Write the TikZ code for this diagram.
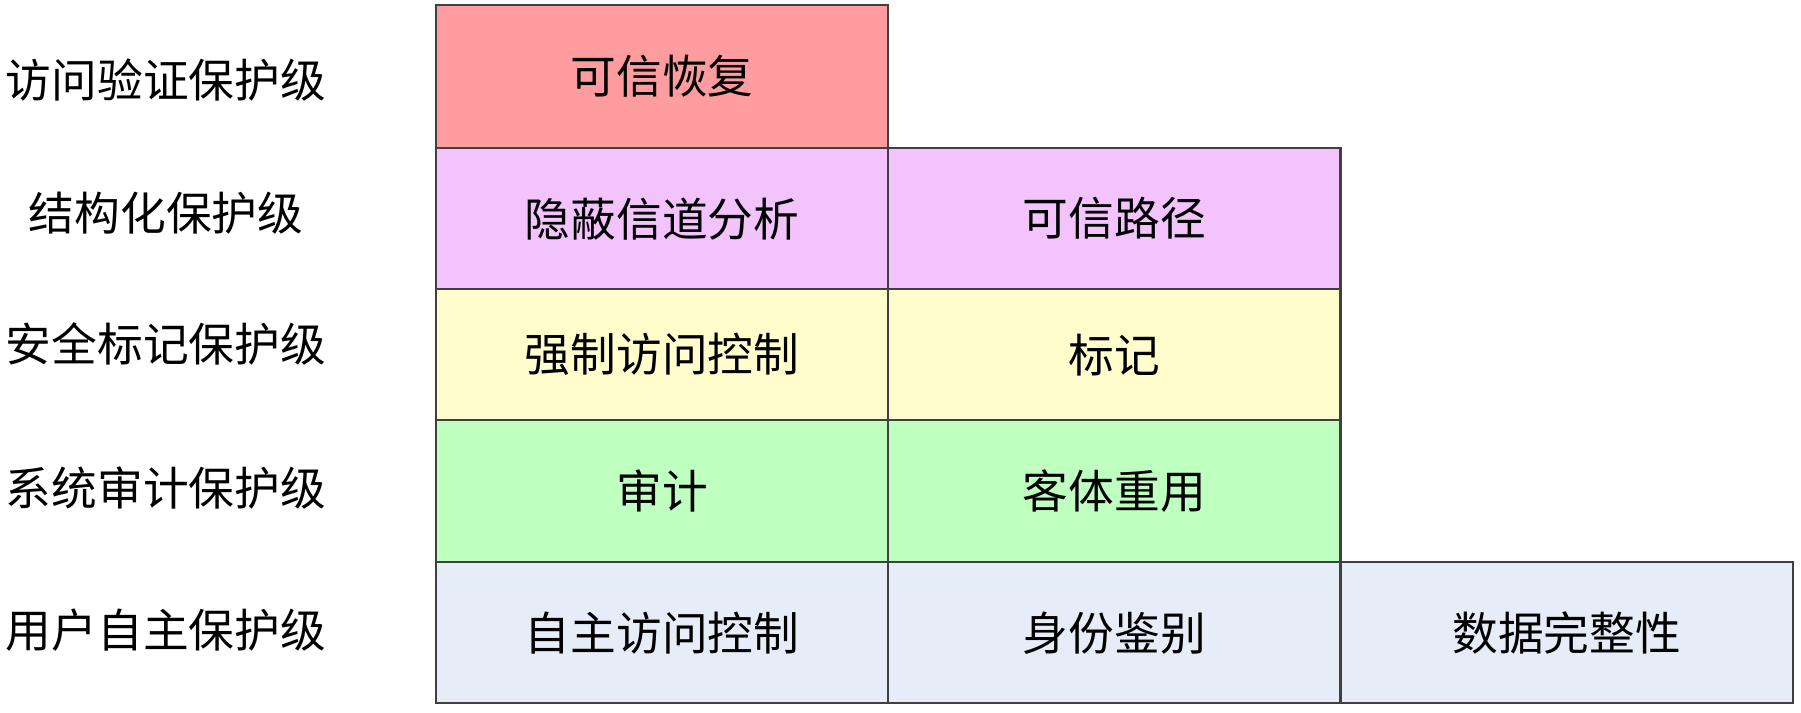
\documentclass[tikz,border=0pt]{standalone}
\usepackage{fontspec}
\setmainfont{Noto Sans CJK SC}
\usetikzlibrary{positioning}
\definecolor{recoverred}{HTML}{FF9C9F}
\definecolor{structpink}{HTML}{F2C3FC}
\definecolor{labelyellow}{HTML}{FFFDCC}
\definecolor{auditgreen}{HTML}{BFFFC0}
\definecolor{userblue}{HTML}{E7EDF8}

\begin{document}
\begin{tikzpicture}[x=0.01cm, y=-0.01cm, font=\fontsize{13}{15}\selectfont,
  cell/.style={draw=black!75, line width=0.6pt, anchor=north west, inner sep=0pt, outer sep=0pt, minimum width=4.52cm},
  level/.style={anchor=center, inner sep=0pt}]
  \useasboundingbox (0,0) rectangle (1801,712);
  % ---- level names ----
  \node[level] (verify) at (166,80) {访问验证保护级};
  \node[level] (struct) at (166,213) {结构化保护级};
  \node[level] (secure) at (166,344) {安全标记保护级};
  \node[level] (audit)  at (166,488) {系统审计保护级};
  \node[level] (user)   at (166,630) {用户自主保护级};
  % ---- verified protection ----
  \node[cell, fill=recoverred, minimum height=1.43cm] (recover) at (436,5) {可信恢复};
  % ---- structured protection ----
  \node[cell, fill=structpink, minimum height=1.41cm] (covert) at (recover.south west) {隐蔽信道分析};
  \node[cell, fill=structpink, minimum height=1.41cm] (path) at (covert.north east) {可信路径};
  % ---- security label protection ----
  \node[cell, fill=labelyellow, minimum height=1.31cm] (mac) at (covert.south west) {强制访问控制};
  \node[cell, fill=labelyellow, minimum height=1.31cm] (mark) at (mac.north east) {标记};
  % ---- system audit protection ----
  \node[cell, fill=auditgreen, minimum height=1.42cm] (audlog) at (mac.south west) {审计};
  \node[cell, fill=auditgreen, minimum height=1.42cm] (reuse) at (audlog.north east) {客体重用};
  % ---- user discretionary protection ----
  \node[cell, fill=userblue, minimum height=1.41cm] (dac) at (audlog.south west) {自主访问控制};
  \node[cell, fill=userblue, minimum height=1.41cm] (ident) at (dac.north east) {身份鉴别};
  \node[cell, fill=userblue, minimum height=1.41cm] (integ) at (ident.north east) {数据完整性};
\end{tikzpicture}
\end{document}
